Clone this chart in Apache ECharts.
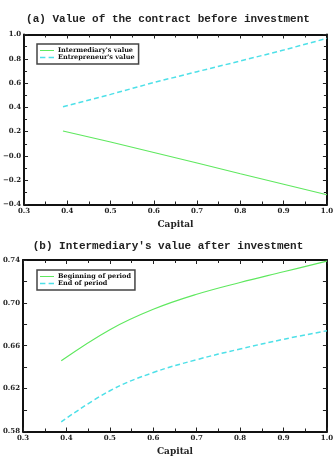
<!DOCTYPE html>
<html><head><meta charset="utf-8">
<script src="https://cdn.jsdelivr.net/npm/echarts@6/dist/echarts.min.js"></script>
<style>html,body{margin:0;padding:0;background:#fff}#c{width:336px;height:465px}</style>
</head><body><div id="c"></div>
<script>
// Panel (a)
const titleA = "(a) Value of the contract before investment";
const capitalA = [0.39, 0.5, 0.6, 0.7, 0.8, 0.9, 1.0];
const intermediaryA = [0.205, 0.115, 0.028, -0.058, -0.147, -0.233, -0.32];
const entrepreneurA = [0.405, 0.507, 0.605, 0.694, 0.782, 0.872, 0.968];
const yTicksA = ["−0.4", "−0.2", "−0.0", "0.2", "0.4", "0.6", "0.8", "1.0"];
// Panel (b)
const titleB = "(b) Intermediary's value after investment";
const capitalB = [0.388, 0.5, 0.6, 0.7, 0.8, 0.9, 1.0];
const beginningB = [0.646, 0.675, 0.694, 0.708, 0.719, 0.729, 0.739];
const endB = [0.589, 0.618, 0.635, 0.647, 0.657, 0.666, 0.674];
const yTicksB = ["0.58", "0.62", "0.66", "0.70", "0.74"];
const xTicks = ["0.3", "0.4", "0.5", "0.6", "0.7", "0.8", "0.9", "1.0"];
const xName = "Capital";

const GREEN = '#5fe85f', CYAN = '#4ee0e8';
const lblFont = {fontFamily: 'DejaVu Serif', fontWeight: 'bold', fontSize: 7, color: '#222'};

function xAx(gi, pos, show) {
  return {
    type: 'value', gridIndex: gi, position: pos, min: 0.3, max: 1.0, interval: 0.1,
    name: show ? xName : '', nameLocation: 'middle', nameGap: 16,
    nameTextStyle: {fontFamily: 'DejaVu Serif', fontWeight: 'bold', fontSize: 9, color: '#222'},
    axisLine: {show: true, onZero: false, lineStyle: {color: '#111', width: 2}},
    axisTick: {show: true, inside: true, length: 4, lineStyle: {color: '#222', width: 1}},
    minorTick: {show: true, splitNumber: 2, length: 3, lineStyle: {color: '#222', width: 1}},
    axisLabel: {show: show, margin: 3, ...lblFont,
      formatter: v => { const s = v.toFixed(1); return xTicks.includes(s) ? s : ''; }},
    splitLine: {show: false}
  };
}
function yAx(gi, pos, show, min, max, interval, labels, digits, minorSplit) {
  return {
    type: 'value', gridIndex: gi, position: pos, min, max, interval,
    axisLine: {show: true, onZero: false, lineStyle: {color: '#111', width: 2}},
    axisTick: {show: true, inside: true, length: 4, lineStyle: {color: '#222', width: 1}},
    minorTick: {show: minorSplit > 1, splitNumber: minorSplit, length: 3, lineStyle: {color: '#222', width: 1}},
    axisLabel: {show: show, margin: 3, ...lblFont,
      formatter: v => {
        let s = Math.abs(v) < 1e-9 ? (digits === 1 ? "−0.0" : "0.00") : v.toFixed(digits);
        if (v < -1e-9) s = "−" + s.slice(1);
        return labels.includes(s) ? s : '';
      }},
    splitLine: {show: false}
  };
}

const chart = echarts.init(document.getElementById('c'), null, {renderer: 'canvas'});
chart.setOption({
  animation: false,
  backgroundColor: '#fff',
  title: [
    {text: titleA, left: 'center', top: 9, textStyle: {fontFamily: 'Liberation Mono', fontWeight: 'bold', fontSize: 11, color: '#222'}},
    {text: titleB, left: 'center', top: 236, textStyle: {fontFamily: 'Liberation Mono', fontWeight: 'bold', fontSize: 11, color: '#222'}}
  ],
  grid: [
    {left: 21, right: 6, top: 34.5, height: 170},
    {left: 20, right: 6, top: 260, height: 171.5}
  ],
  legend: [
    {left: 37, top: 44, orient: 'vertical', itemGap: 0, itemWidth: 14, itemHeight: 8,
     padding: [3, 4, 3, 3], borderColor: '#444', borderWidth: 1.5,
     textStyle: {fontFamily: 'DejaVu Serif', fontWeight: 'bold', fontSize: 6.5, color: '#111', padding: [0, 0, 0, -1]},
     data: [{name: "Intermediary's value", icon: 'path://M0,4L14,4L14,5L0,5Z'},
            {name: "Entrepreneur's value", icon: 'path://M0,4L5,4L5,5.5L0,5.5ZM8,4L13,4L13,5.5L8,5.5Z'}]},
    {left: 37, top: 270, orient: 'vertical', itemGap: 0, itemWidth: 14, itemHeight: 8,
     padding: [3, 4, 3, 3], borderColor: '#444', borderWidth: 1.5,
     textStyle: {fontFamily: 'DejaVu Serif', fontWeight: 'bold', fontSize: 6.5, color: '#111', padding: [0, 0, 0, -1]},
     data: [{name: "Beginning of period", icon: 'path://M0,4L14,4L14,5L0,5Z'},
            {name: "End of period", icon: 'path://M0,4L5,4L5,5.5L0,5.5ZM8,4L13,4L13,5.5L8,5.5Z'}]}
  ],
  xAxis: [xAx(0, 'bottom', true), xAx(0, 'top', false), xAx(1, 'bottom', true), xAx(1, 'top', false)],
  yAxis: [
    yAx(0, 'left', true, -0.4, 1.0, 0.2, yTicksA, 1, 2),
    yAx(0, 'right', false, -0.4, 1.0, 0.2, yTicksA, 1, 2),
    yAx(1, 'left', true, 0.58, 0.74, 0.02, yTicksB, 2, 1),
    yAx(1, 'right', false, 0.58, 0.74, 0.02, yTicksB, 2, 1)
  ],
  series: [
    {name: "Intermediary's value", type: 'line', xAxisIndex: 0, yAxisIndex: 0, showSymbol: false, smooth: false,
     color: GREEN, lineStyle: {color: GREEN, width: 1.2}, data: capitalA.map((x, i) => [x, intermediaryA[i]])},
    {name: "Entrepreneur's value", type: 'line', xAxisIndex: 0, yAxisIndex: 0, showSymbol: false, smooth: false,
     color: CYAN, lineStyle: {color: CYAN, width: 1.5, type: [5, 3]}, data: capitalA.map((x, i) => [x, entrepreneurA[i]])},
    {name: "Beginning of period", type: 'line', xAxisIndex: 2, yAxisIndex: 2, showSymbol: false, smooth: 0.4,
     color: GREEN, lineStyle: {color: GREEN, width: 1.2}, data: capitalB.map((x, i) => [x, beginningB[i]])},
    {name: "End of period", type: 'line', xAxisIndex: 2, yAxisIndex: 2, showSymbol: false, smooth: 0.4,
     color: CYAN, lineStyle: {color: CYAN, width: 1.5, type: [5, 3]}, data: capitalB.map((x, i) => [x, endB[i]])}
  ]
});
</script></body></html>
